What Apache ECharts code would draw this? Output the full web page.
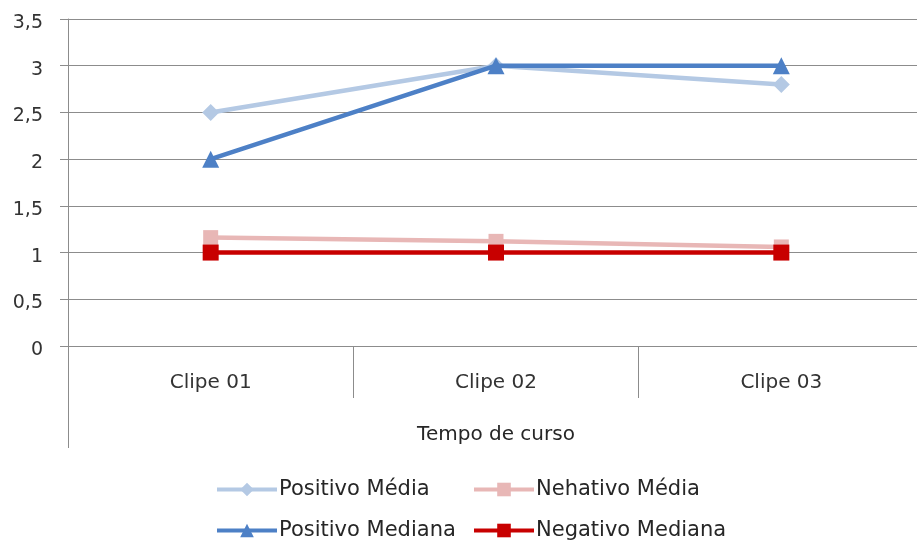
<!DOCTYPE html>
<html>
<head>
<meta charset="utf-8">
<script src="https://cdn.jsdelivr.net/npm/echarts@6/dist/echarts.min.js"></script>
<style>
  html, body { margin: 0; padding: 0; background: #fff; overflow: hidden; }
  /* the plot runs a few pixels past the right edge of the window */
  #chart { width: 924px; height: 549px; }
</style>
</head>
<body>
<div id="chart"></div>
<script>
// Categories and series values
const categories = ['Clipe 01', 'Clipe 02', 'Clipe 03'];
const positivoMedia = [2.5, 3.0, 2.8];
const nehativoMedia = [1.16, 1.12, 1.06];
const positivoMediana = [2, 3, 3];
const negativoMediana = [1, 1, 1];
const yTicks = { min: 0, max: 3.5, interval: 0.5 };
const axisTitle = 'Tempo de curso';

const FONT = '"DejaVu Sans", "Noto Sans", sans-serif';
const GRID_COLOR = '#8c8c8c';
const TEXT_COLOR = '#333333';

const chart = echarts.init(document.getElementById('chart'), null, { renderer: 'canvas' });

function lineSeries(name, data, color, symbol, size, z) {
  return {
    name: name,
    type: 'line',
    data: data,
    z: z,
    symbol: symbol,
    symbolSize: size,
    showSymbol: true,
    lineStyle: { color: color, width: 4.5 },
    itemStyle: { color: color },
    emphasis: { disabled: true },
    animation: false
  };
}

function legendAt(name, left, top) {
  return {
    data: [name],
    left: left,
    top: top,
    padding: 0,
    itemWidth: 60,
    itemHeight: 17,
    itemGap: 0,
    lineStyle: { width: 4 },
    textStyle: { fontFamily: FONT, fontSize: 21, color: '#262626', padding: [0, 0, 0, -3] },
    selectedMode: false
  };
}

chart.setOption({
  backgroundColor: '#ffffff',
  animation: false,
  grid: { left: 68, right: 0, top: 19, bottom: 203 },
  legend: [
    legendAt('Positivo Média', 215, 479),
    legendAt('Nehativo Média', 472, 479),
    legendAt('Positivo Mediana', 215, 520),
    legendAt('Negativo Mediana', 472, 520)
  ],
  xAxis: {
    type: 'category',
    data: categories,
    boundaryGap: true,
    axisLine: { show: true, lineStyle: { color: GRID_COLOR, width: 1 } },
    axisTick: { show: true, interval: 0, length: 52, lineStyle: { color: GRID_COLOR, width: 1 } },
    axisLabel: { margin: 27, fontFamily: FONT, fontSize: 20, color: TEXT_COLOR },
    name: axisTitle,
    nameLocation: 'middle',
    nameGap: 79,
    nameTextStyle: { fontFamily: FONT, fontSize: 20, color: '#262626' },
    splitLine: { show: false }
  },
  yAxis: {
    type: 'value',
    min: yTicks.min,
    max: yTicks.max,
    interval: yTicks.interval,
    axisLine: { show: true, lineStyle: { color: GRID_COLOR, width: 1 } },
    axisTick: { show: true, length: 8, lineStyle: { color: GRID_COLOR, width: 1 } },
    axisLabel: {
      margin: 25,
      fontFamily: FONT,
      fontSize: 19,
      color: TEXT_COLOR,
      // tick labels sit slightly below their grid lines
      formatter: v => '{v|' + String(v).replace('.', ',') + '}',
      rich: {
        v: { fontFamily: FONT, fontSize: 19, color: TEXT_COLOR, padding: [8, 0, 0, 0] }
      }
    },
    splitLine: { show: true, lineStyle: { color: GRID_COLOR, width: 1 } }
  },
  // extends the left axis line down past the category row (multi-level axis look)
  graphic: [{
    type: 'line',
    shape: { x1: 68.5, y1: 346, x2: 68.5, y2: 448 },
    style: { stroke: GRID_COLOR, lineWidth: 1 },
    silent: true
  }],
  series: [
    lineSeries('Positivo Média', positivoMedia, '#b4c9e4', 'diamond', 17, 2),
    lineSeries('Nehativo Média', nehativoMedia, '#e8b7b6', 'rect', 15, 2),
    lineSeries('Positivo Mediana', positivoMediana, '#4d80c6', 'triangle', 17, 3),
    lineSeries('Negativo Mediana', negativoMediana, '#c80000', 'rect', 16, 3)
  ]
});
</script>
</body>
</html>
